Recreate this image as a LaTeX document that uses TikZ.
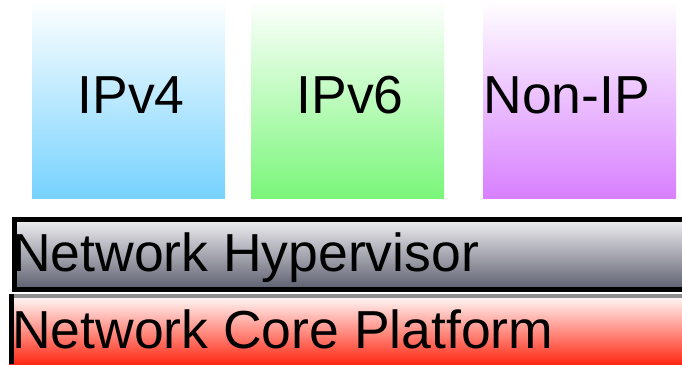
\documentclass[tikz,border=0pt]{standalone}
\usepackage{fontspec}
\setmainfont{Liberation Sans}
\definecolor{ipvfour}{RGB}{118,210,255}
\definecolor{ipvsix}{RGB}{122,246,122}
\definecolor{nonip}{RGB}{216,128,255}
\definecolor{hyptop}{RGB}{238,238,241}
\definecolor{hypbot}{RGB}{92,94,110}
\definecolor{corebot}{RGB}{255,40,20}
\definecolor{coreedge}{RGB}{142,142,142}
\tikzset{
  bigtext/.style={font=\fontsize{53.5}{60}\selectfont},
  protobox/.style={anchor=north west, minimum width=193pt, minimum height=198pt,
    inner sep=0pt, top color=white, bottom color=#1, bigtext,
    text height=38.5pt, text depth=10pt},
  layerlabel/.style={anchor=base west, inner sep=0pt, bigtext},
}
\begin{document}
\begin{tikzpicture}[x=1pt,y=1pt]
  \useasboundingbox (0,0) rectangle (682,364);
  \clip (0,0) rectangle (682,364);
  \fill[white] (0,0) rectangle (682,364);

  % protocol boxes
  \node[protobox=ipvfour] (v4) at (32,364) {\kern2.5pt IPv4\kern-2.5pt};
  \node[protobox=ipvsix] (v6) at (251,364) {\kern2.5pt IPv6\kern-2.5pt};
  \node[protobox=nonip] (nip) at (483,364) {\kern-13pt Non-IP\kern13pt};

  % hypervisor layer
  \node[anchor=north west, minimum width=700pt, minimum height=70pt, inner sep=0pt,
        draw=black, line width=5pt, top color=hyptop, bottom color=hypbot]
        (hyp) at (11.5,146.5) {};
  \node[layerlabel] (hyplabel) at (12,92.3) {Network Hypervisor};

  % core platform layer
  \node[anchor=north west, minimum width=700pt, minimum height=70pt, inner sep=0pt,
        top color=white, bottom color=corebot] (core) at (9,70) {};
  \fill[coreedge] (core.north west) rectangle ([yshift=-4.5pt]core.north east);
  \fill[black] (core.north west) rectangle ([xshift=5pt]core.south west);
  \node[layerlabel] (corelabel) at (12,16) {Network Core Platform};
\end{tikzpicture}
\end{document}
